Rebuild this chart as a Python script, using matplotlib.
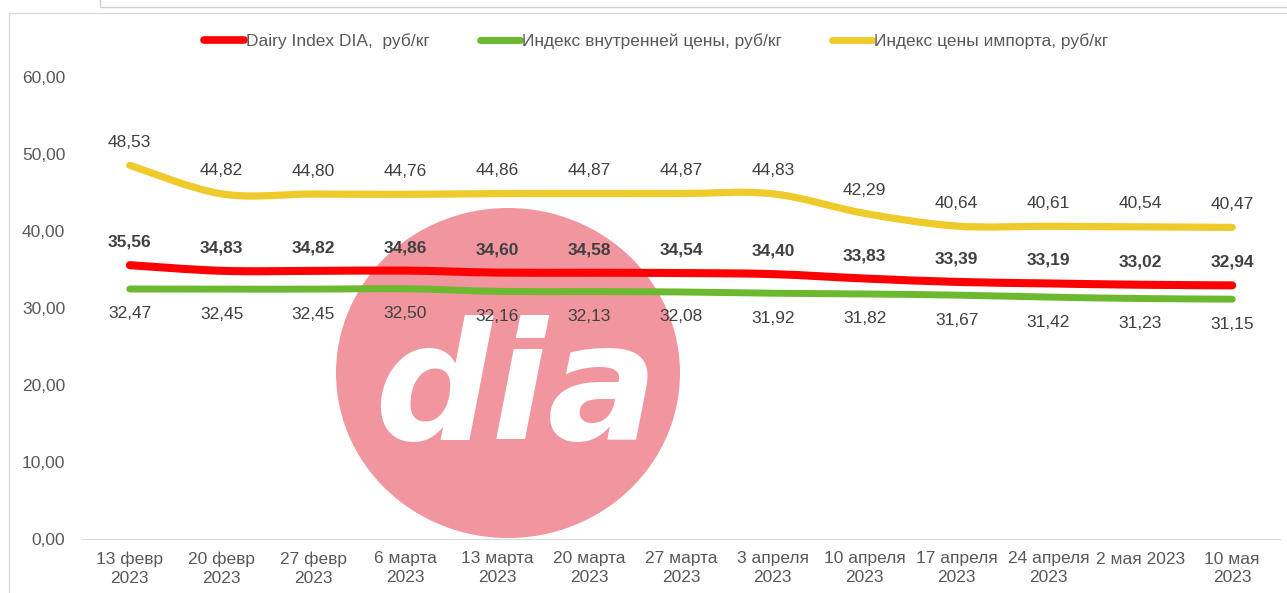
import matplotlib
matplotlib.use("Agg")
import matplotlib.pyplot as plt
from matplotlib.path import Path
from matplotlib.patches import PathPatch, Ellipse, Rectangle
from matplotlib.lines import Line2D

plt.rcParams['font.family'] = ['Liberation Sans', 'DejaVu Sans']

# dates (x categories)
dates = ['13 февр\n2023', '20 февр\n2023', '27 февр\n2023', '6 марта\n2023',
         '13 марта\n2023', '20 марта\n2023', '27 марта\n2023', '3 апреля\n2023',
         '10 апреля\n2023', '17 апреля\n2023', '24 апреля\n2023', '2 мая 2023',
         '10 мая\n2023']

dairy_index = [35.56, 34.83, 34.82, 34.86, 34.60, 34.58, 34.54, 34.40,
               33.83, 33.39, 33.19, 33.02, 32.94]
internal_idx = [32.47, 32.45, 32.45, 32.50, 32.16, 32.13, 32.08, 31.92,
                31.82, 31.67, 31.42, 31.23, 31.15]
import_idx = [48.53, 44.82, 44.80, 44.76, 44.86, 44.87, 44.87, 44.83,
              42.29, 40.64, 40.61, 40.54, 40.47]

names = ['Dairy Index DIA,  руб/кг', 'Индекс внутренней цены, руб/кг',
         'Индекс цены импорта, руб/кг']
yticks = [0, 10, 20, 30, 40, 50, 60]

RED = '#FF0000'
GREEN = '#6CB82F'
YELLOW = '#EECB2A'
TXT = '#404040'
AX_TXT = '#595959'
FS = 12.5


def smooth_path(xs, ys):
    # excel-like smoothed line: cubic bezier through the data points
    pts = list(zip(xs, ys))
    verts = [pts[0]]
    codes = [Path.MOVETO]
    n = len(pts)
    for i in range(n - 1):
        p0 = pts[i - 1] if i > 0 else pts[i]
        p1 = pts[i]
        p2 = pts[i + 1]
        p3 = pts[i + 2] if i + 2 < n else pts[i + 1]
        c1 = (p1[0] + (p2[0] - p0[0]) / 6, p1[1] + (p2[1] - p0[1]) / 6)
        c2 = (p2[0] - (p3[0] - p1[0]) / 6, p2[1] - (p3[1] - p1[1]) / 6)
        verts += [c1, c2, p2]
        codes += [Path.CURVE4] * 3
    return Path(verts, codes)


def fmt(v):
    return ('%.2f' % v).replace('.', ',')


fig = plt.figure(figsize=(12.87, 5.93), dpi=100)

# frame bits around the chart
fig.patches.append(Rectangle((9 / 1287, -0.01), 1.1, 1 - 13 / 593 + 0.01, transform=fig.transFigure,
                             fill=False, edgecolor='#D9D9D9', lw=1))
fig.patches.append(Rectangle((100 / 1287, 1 - 7 / 593), 1.1, 0.1, transform=fig.transFigure,
                             fill=False, edgecolor='#CFCFCF', lw=1))

ax = fig.add_axes([82 / 1287, 1 - 539 / 593, (1280 - 82) / 1287, 462 / 593])
ax.set_xlim(-0.52, 12.52)
ax.set_ylim(0, 60)

# watermark (behind the lines and labels)
ax.add_patch(Ellipse((508 / 1287, 1 - 373 / 593), 344 / 1287, 330 / 593, transform=fig.transFigure,
                     facecolor='#F1959E', edgecolor='none', zorder=0.5, clip_on=False))
ax.text(516 / 1287, 1 - 440 / 593, 'dia', transform=fig.transFigure, ha='center', va='baseline',
        fontsize=118, fontweight='bold', style='italic', color='white',
        family='DejaVu Sans', zorder=0.6)

x = list(range(len(dates)))
series = [(import_idx, YELLOW, 5.2), (dairy_index, RED, 5.8), (internal_idx, GREEN, 5.0)]
for vals, col, w in series:
    ax.add_patch(PathPatch(smooth_path(x, vals), facecolor='none', edgecolor=col,
                           lw=w, capstyle='round', zorder=2))

for i, v in enumerate(import_idx):
    ax.annotate(fmt(v), (i, v), xytext=(0, 23), textcoords='offset pixels',
                ha='center', va='center', fontsize=FS, color=TXT, zorder=3)
for i, v in enumerate(dairy_index):
    ax.annotate(fmt(v), (i, v), xytext=(0, 23), textcoords='offset pixels',
                ha='center', va='center', fontsize=FS, color=TXT, fontweight='bold', zorder=3)
for i, v in enumerate(internal_idx):
    ax.annotate(fmt(v), (i, v), xytext=(0, -25), textcoords='offset pixels',
                ha='center', va='center', fontsize=FS, color=TXT, zorder=3)

ax.set_xticks(x)
ax.set_xticklabels(dates, fontsize=FS, color=AX_TXT, linespacing=1.3)
ax.set_yticks(yticks)
ax.set_yticklabels([fmt(v) for v in yticks], fontsize=FS, color=AX_TXT)
ax.tick_params(axis='both', length=0)
ax.tick_params(axis='x', pad=9)
ax.tick_params(axis='y', pad=12)
for s in ['top', 'right', 'left']:
    ax.spines[s].set_visible(False)
ax.spines['bottom'].set_color('#D9D9D9')

handles = [Line2D([], [], color=RED, lw=5.5, solid_capstyle='round'),
           Line2D([], [], color=GREEN, lw=5.0, solid_capstyle='round'),
           Line2D([], [], color=YELLOW, lw=5.0, solid_capstyle='round')]
fig.legend(handles, names, loc='center', bbox_to_anchor=(656 / 1287, 1 - 41 / 593), ncol=3,
           frameon=False, fontsize=FS, labelcolor=AX_TXT, handlelength=2.3,
           handletextpad=0.1, columnspacing=2.9)

fig.savefig('out.png', dpi=100)
